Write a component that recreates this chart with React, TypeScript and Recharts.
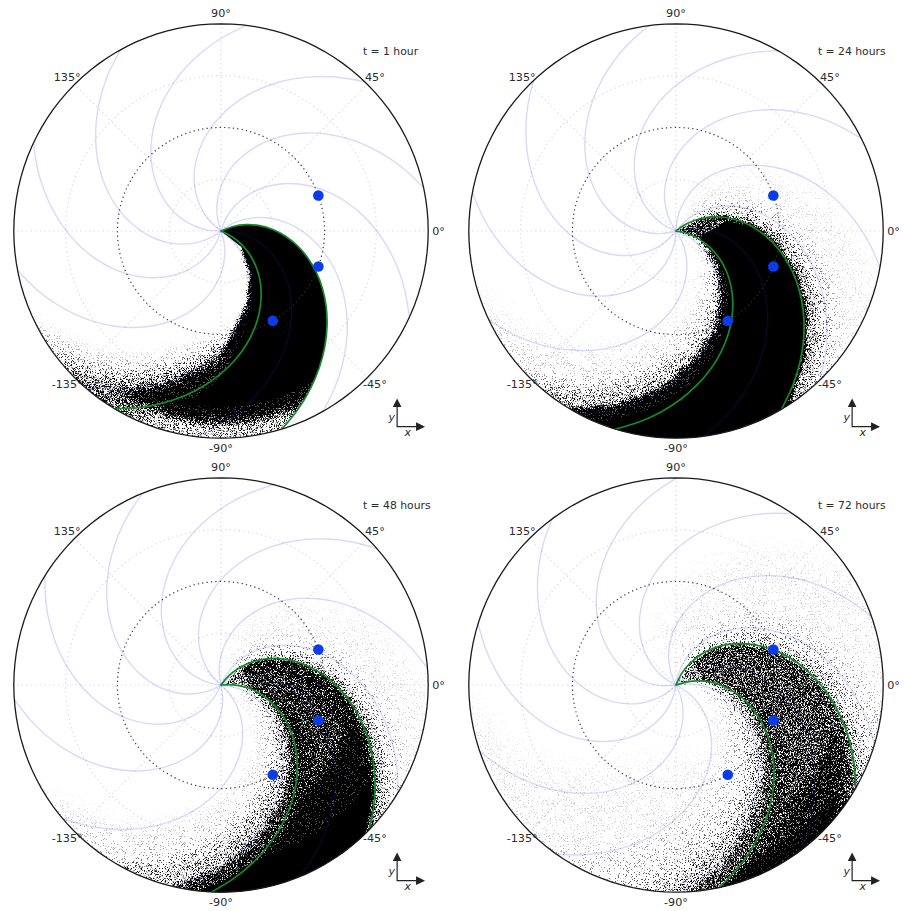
import React from "react";
import { ScatterChart, Scatter, XAxis, YAxis } from "recharts";

// ---- data (distances in AU, angles in degrees) ----
const spiralRadius = [0, 0.125, 0.25, 0.375, 0.5, 0.625, 0.75, 0.875, 1, 1.125, 1.25, 1.375, 1.5, 1.625, 1.75, 1.875, 2, 2.125, 2.25];
const spiralSweep = [99, 93.3, 87, 80.8, 74.5, 68.3, 62, 55.8, 49.6, 43.4, 37.2, 31, 24.8, 18.6, 12.4, 6.2, 0, -6.2, -12.4];
const fieldLineEnds = [46, 12, -24.6, -60.5, -96.7, -132, -169, 154.8, 119, 83];
const panelRotation = [0, 14.5, 29.2, 43.8];
const panelTimes = ["t = 1 hour", "t = 24 hours", "t = 48 hours", "t = 72 hours"];
const greenOuterEnds = [-72.9, -59.4, -44.3, -29.8];
const greenInnerEnds = [-120.9, -107, -92.6, -78];
const bodyAngles = [20, -20, -60];
const gridRings = [0.5, 1.5];
const spokeAngles = [0, 45, 90, 135, 180, 225, 270, 315];
const angleTicks = [0, 45, 90, 135, 180, 225, 270, 315];
const angleTickLabels = ["0°", "45°", "90°", "135°", "", "-135°", "-90°", "-45°"];
const yArrowHead = [{ x: 1.7, y: -1.617 }, { x: 1.742, y: -1.7 }, { x: 1.658, y: -1.7 }];
const xArrowHead = [{ x: 1.97, y: -1.889 }, { x: 1.883, y: -1.931 }, { x: 1.883, y: -1.847 }];
const arrowShaft = [{ x: 1.7, y: -1.69 }, { x: 1.7, y: -1.889 }, { x: 1.89, y: -1.889 }];

type Band = { r: number[]; outer: number | number[]; inner: number | number[]; alpha: number; blur: number };

const R9 = [0.25, 0.5, 0.75, 1, 1.25, 1.5, 1.75, 2, 2.25];

const bands1: Band[] = [
  { r: [0, 0.25, 0.5, 0.75, 1, 1.25, 1.5, 1.7], outer: -60, inner: [-120, -125, -128, -129, -127, -122, -118, -116], alpha: 1, blur: 0 },
  { r: [0.25, 0.5, 0.75, 1, 1.25], outer: -60, inner: [-127, -131, -133, -134, -129], alpha: 1, blur: 2 },
  { r: [1, 1.25, 1.5, 1.65, 1.88], outer: -60, inner: [-128, -131, -133, -133, -133], alpha: 1, blur: 7 },
  { r: [1.25, 1.5, 1.75, 2.2], outer: -60, inner: [-128, -130, -130, -132], alpha: 0.36, blur: 7 },
  { r: [1, 1.25, 1.5, 1.75, 2.2], outer: -110, inner: [-132, -136, -138, -138, -138], alpha: 0.56, blur: 7 },
  { r: [1, 1.25, 1.5, 1.75, 2.2], outer: -110, inner: [-135, -144, -146, -147, -148], alpha: 0.3, blur: 9 },
];
const bands2: Band[] = [
  { r: [0.25, 0.375, 0.5, 0.75, 1, 1.25, 1.5, 1.75, 2, 2.25], outer: [-95, -78, -63, -59.4, -59.4, -59.4, -59.4, -59.4, -59.4, -59.4], inner: [-108, -109, -109, -109, -110, -110, -110, -111, -112, -112], alpha: 1, blur: 0 },
  { r: [0.02, 0.25, 0.5, 0.75], outer: -59.4, inner: -108, alpha: 0.72, blur: 1.5 },
  { r: R9, outer: -100, inner: [-110, -116, -118, -118, -120, -120, -121, -122, -122], alpha: 1, blur: 4 },
  { r: R9.slice(1), outer: -100, inner: [-120, -125, -128, -130, -132, -133, -134, -134], alpha: 0.4, blur: 8 },
  { r: R9.slice(1), outer: -110, inner: [-130, -138, -145, -150, -152, -155, -158, -160], alpha: 0.1, blur: 14 },
  { r: R9, outer: -56, inner: -65, alpha: 1, blur: 2.5 },
  { r: R9, outer: -49, inner: -65, alpha: 0.44, blur: 4 },
  { r: R9, outer: -40, inner: -65, alpha: 0.2, blur: 7 },
  { r: R9, outer: -15, inner: -65, alpha: 0.06, blur: 14 },
];
const bands3: Band[] = [
  { r: [1.7, 1.875, 2, 2.25], outer: -46, inner: [-90, -94, -96, -96], alpha: 1, blur: 0 },
  { r: [1.25, 1.5, 1.75, 2, 2.25], outer: -44.3, inner: [-88, -92, -95, -97, -97], alpha: 1, blur: 6 },
  { r: [0.25, 0.5, 0.75, 1, 1.25, 1.5, 1.75, 2, 2.25], outer: -44.3, inner: -92.6, alpha: 0.76, blur: 1 },
  { r: [0.02, 0.25, 0.5], outer: -44.3, inner: -92.6, alpha: 0.5, blur: 1.5 },
  { r: R9, outer: -80, inner: [-93, -97, -99, -100, -100, -102, -103, -104, -104], alpha: 0.8, blur: 4 },
  { r: R9, outer: -80, inner: [-100, -106, -110, -112, -114, -116, -118, -120, -120], alpha: 0.38, blur: 7 },
  { r: R9.slice(1), outer: -90, inner: [-115, -122, -128, -132, -136, -140, -145, -145], alpha: 0.13, blur: 12 },
  { r: R9, outer: -42, inner: -60, alpha: 0.76, blur: 2 },
  { r: R9, outer: -36, inner: -60, alpha: 0.42, blur: 5 },
  { r: R9, outer: -28, inner: -50, alpha: 0.19, blur: 8 },
  { r: R9, outer: 0, inner: -50, alpha: 0.06, blur: 14 },
];
const bands4: Band[] = [
  { r: [1.5, 1.75, 2, 2.25], outer: -32, inner: [-70, -76, -80, -82], alpha: 0.85, blur: 8 },
  { r: [1.8, 2, 2.25], outer: -38, inner: -78, alpha: 1, blur: 5 },
  { r: [0.25, 0.5, 0.75, 1, 1.25, 1.5, 1.75, 2, 2.25], outer: -29.8, inner: -78, alpha: 0.68, blur: 1 },
  { r: [0.02, 0.25, 0.5], outer: -29.8, inner: -78, alpha: 0.48, blur: 1.5 },
  { r: R9, outer: -65, inner: [-78, -82, -84, -86, -86, -88, -88, -88, -88], alpha: 0.68, blur: 5 },
  { r: R9, outer: -65, inner: [-85, -90, -94, -96, -97, -98, -100, -102, -102], alpha: 0.37, blur: 8 },
  { r: R9.slice(1), outer: -75, inner: [-102, -108, -112, -116, -120, -122, -126, -126], alpha: 0.16, blur: 12 },
  { r: R9.slice(2), outer: -90, inner: -175, alpha: 0.06, blur: 14 },
  { r: R9, outer: -27, inner: -45, alpha: 0.58, blur: 3 },
  { r: R9, outer: -20, inner: -40, alpha: 0.34, blur: 6 },
  { r: R9, outer: -8, inner: -40, alpha: 0.16, blur: 9 },
  { r: R9, outer: 35, inner: -40, alpha: 0.06, blur: 14 },
];
const panelBands = [bands1, bands2, bands3, bands4];
const panelEdgeClip: (number | null)[] = [-72.9, null, null, null];

// ---- geometry helpers ----
const PX = 103.6;
const W = 449;
const H = 454;
const CX = 221;
const CY = 231;
const panelLeft = [0, 455, 0, 455];
const panelTop = [0, 0, 454, 454];
const xDomain = [-CX / PX, (W - CX) / PX];
const yDomain = [-(H - CY) / PX, CY / PX];

const toXY = (r: number, deg: number) => ({
  x: r * Math.cos((deg * Math.PI) / 180),
  y: r * Math.sin((deg * Math.PI) / 180),
});
const sweepAt = (r: number) => {
  for (let i = 1; i < spiralRadius.length; i++) {
    if (r <= spiralRadius[i]) {
      const t = (r - spiralRadius[i - 1]) / (spiralRadius[i] - spiralRadius[i - 1]);
      return spiralSweep[i - 1] + t * (spiralSweep[i] - spiralSweep[i - 1]);
    }
  }
  return spiralSweep[spiralSweep.length - 1];
};
const spiral = (end: number) =>
  spiralRadius.filter((r) => r <= 2).map((r, i) => toXY(r, end + spiralSweep[i]));
const ring = (r: number) => Array.from({ length: 120 }, (_, i) => toXY(r, i * 3));

const pick = (v: number | number[], i: number) => (Array.isArray(v) ? v[i] : v);
const arc = (r: number, from: number, to: number) => {
  const n = Math.ceil(Math.abs(to - from) / 6);
  return Array.from({ length: n + 1 }, (_, k) => {
    const psi = from + ((to - from) * k) / n;
    return toXY(r, psi + sweepAt(r));
  });
};
const bandPolygon = (b: Band) => {
  const last = b.r.length - 1;
  const out: { x: number; y: number }[] = [];
  b.r.forEach((r, i) => out.push(toXY(r, pick(b.outer, i) + sweepAt(r))));
  out.push(...arc(b.r[last], pick(b.outer, last), pick(b.inner, last)));
  for (let i = last; i >= 0; i--) out.push(toXY(b.r[i], pick(b.inner, i) + sweepAt(b.r[i])));
  out.push(...arc(b.r[0], pick(b.inner, 0), pick(b.outer, 0)));
  return out;
};

const closedPath = (pts: { x: number; y: number }[]) =>
  pts.map((p, i) => `${i ? "L" : "M"}${p.x.toFixed(2)} ${p.y.toFixed(2)}`).join("") + "Z";

const NoShape = () => <g />;

// ---- renderers that receive points already passed through the chart scales ----
const closedLine = (attrs: any) => (props: any) => <path d={closedPath(props.points)} {...attrs} />;
const clipLine = (id: string) => (props: any) => (
  <defs>
    <clipPath id={id}>
      <path d={closedPath(props.points)} />
    </clipPath>
  </defs>
);
const bandLine = (panel: number, index: number, band: Band) => (props: any) => {
  const id = `stipple-${panel}-${index}`;
  const d = closedPath(props.points);
  const G = 2.2;
  const inner = band.blur === 0 ? (
    <path d={d} fill="#000" />
  ) : (
    <>
      <defs>
        <filter id={id} filterUnits="userSpaceOnUse" x="0" y="0" width={W} height={H} colorInterpolationFilters="sRGB">
          <feGaussianBlur in="SourceAlpha" stdDeviation={band.blur} result="density" />
          <feTurbulence type="fractalNoise" baseFrequency="1.37" numOctaves="1" seed={panel * 7 + 3} result="noise" />
          <feColorMatrix in="noise" type="matrix" values="0 0 0 0 0  0 0 0 0 0  0 0 0 0 0  0 0 0 3 -1" result="grain" />
          <feComposite in="density" in2="grain" operator="arithmetic" k1="0" k2={G * 1.3} k3={G} k4={-G} />
        </filter>
      </defs>
      <path d={d} fill="#000" fillOpacity={band.alpha} filter={`url(#${id})`} />
    </>
  );
  const edge = panelEdgeClip[panel] !== null;
  return (
    <g clipPath={`url(#rim-${panel})`}>
      {edge ? <g clipPath={`url(#edge-${panel})`}>{inner}</g> : inner}
    </g>
  );
};

const textShape = (style: any) => (props: any) => (
  <text
    x={props.cx}
    y={props.cy}
    dominantBaseline="central"
    fontFamily="DejaVu Sans"
    fontSize={11.2}
    fill="#2b2b2b"
    {...style}
  >
    {props.payload.label}
  </text>
);
const bodyShape = (props: any) => <circle cx={props.cx} cy={props.cy} r={5.3} fill="#0b3cf5" />;

const Panel = ({ index }: { index: number }) => {
  const rotation = panelRotation[index];
  const tickData = angleTicks
    .map((a, i) => ({ ...toXY(2.1, a), label: angleTickLabels[i] }))
    .filter((d) => d.label);
  const edgeClip = panelEdgeClip[index];
  return (
    <div style={{ position: "absolute", left: panelLeft[index], top: panelTop[index], width: W, height: H }}>
      <ScatterChart width={W} height={H} margin={{ top: 0, right: 0, bottom: 0, left: 0 }}>
        <XAxis type="number" dataKey="x" domain={xDomain} hide allowDataOverflow />
        <YAxis type="number" dataKey="y" domain={yDomain} hide allowDataOverflow width={0} />

        {edgeClip !== null && (
          <Scatter
            isAnimationActive={false}
            data={bandPolygon({ r: spiralRadius, outer: edgeClip, inner: edgeClip - 130, alpha: 1, blur: 0 })}
            shape={NoShape}
            line={clipLine(`edge-${index}`)}
          />
        )}
        {gridRings.map((r) => (
          <Scatter
            key={`ring${r}`}
            isAnimationActive={false}
            data={ring(r)}
            shape={NoShape}
            line={closedLine({ fill: "none", stroke: "#d8d8d8", strokeWidth: 1.2, strokeDasharray: "1.2 3.3" })}
          />
        ))}
        {spokeAngles.map((a) => (
          <Scatter
            key={`spoke${a}`}
            isAnimationActive={false}
            data={[toXY(0, a), toXY(2, a)]}
            shape={NoShape}
            line={{ stroke: "#d8d8d8", strokeWidth: 1.2, strokeDasharray: "1.2 3.3" }}
          />
        ))}
        {panelBands[index].map((band, i) => (
          <Scatter
            key={`band${i}`}
            isAnimationActive={false}
            data={bandPolygon(band)}
            shape={NoShape}
            line={bandLine(index, i, band)}
          />
        ))}
        {fieldLineEnds.map((end) => (
          <Scatter
            key={`field${end}`}
            isAnimationActive={false}
            data={spiral(end + rotation)}
            shape={NoShape}
            line={{ stroke: "#2a2ae0", strokeOpacity: 0.18, strokeWidth: 1.4, fill: "none" }}
            lineJointType="natural"
          />
        ))}
        <Scatter
          isAnimationActive={false}
          data={spiral(greenOuterEnds[index])}
          shape={NoShape}
          line={{ stroke: "#17892b", strokeWidth: 1.7, fill: "none" }}
          lineJointType="natural"
        />
        <Scatter
          isAnimationActive={false}
          data={spiral(greenInnerEnds[index])}
          shape={NoShape}
          line={{ stroke: "#17892b", strokeWidth: 1.7, fill: "none" }}
          lineJointType="natural"
        />
        <Scatter isAnimationActive={false} data={bodyAngles.map((a) => toXY(1, a))} shape={bodyShape} />
        <Scatter
          isAnimationActive={false}
          data={ring(1)}
          shape={NoShape}
          line={closedLine({ fill: "none", stroke: "#333", strokeWidth: 1.2, strokeDasharray: "1.2 3.2" })}
        />
        <Scatter
          isAnimationActive={false}
          data={ring(2)}
          shape={NoShape}
          line={closedLine({ fill: "none", stroke: "#1a1a1a", strokeWidth: 1.3 })}
        />
        <Scatter isAnimationActive={false} data={ring(2)} shape={NoShape} line={clipLine(`rim-${index}`)} />
        <Scatter isAnimationActive={false} data={tickData} shape={textShape({ textAnchor: "middle" })} />
        <Scatter
          isAnimationActive={false}
          data={[{ x: 1.37, y: 1.73, label: panelTimes[index] }]}
          shape={textShape({ textAnchor: "start", fontSize: 10.8 })}
        />
        <Scatter
          isAnimationActive={false}
          data={arrowShaft}
          shape={NoShape}
          line={{ stroke: "#222", strokeWidth: 1.2, fill: "none" }}
        />
        <Scatter isAnimationActive={false} data={yArrowHead} shape={NoShape} line={closedLine({ fill: "#222" })} />
        <Scatter isAnimationActive={false} data={xArrowHead} shape={NoShape} line={closedLine({ fill: "#222" })} />
        <Scatter
          isAnimationActive={false}
          data={[{ x: 1.648, y: -1.798, label: "y" }, { x: 1.802, y: -1.943, label: "x" }]}
          shape={textShape({ textAnchor: "middle", fontStyle: "italic", fontSize: 11 })}
        />
      </ScatterChart>
    </div>
  );
};

export default function App() {
  return (
    <div style={{ position: "absolute", left: 0, top: 0, width: 904, height: 911, overflow: "hidden", background: "#fff" }}>
      {panelTimes.map((_, i) => (
        <Panel key={i} index={i} />
      ))}
    </div>
  );
}
